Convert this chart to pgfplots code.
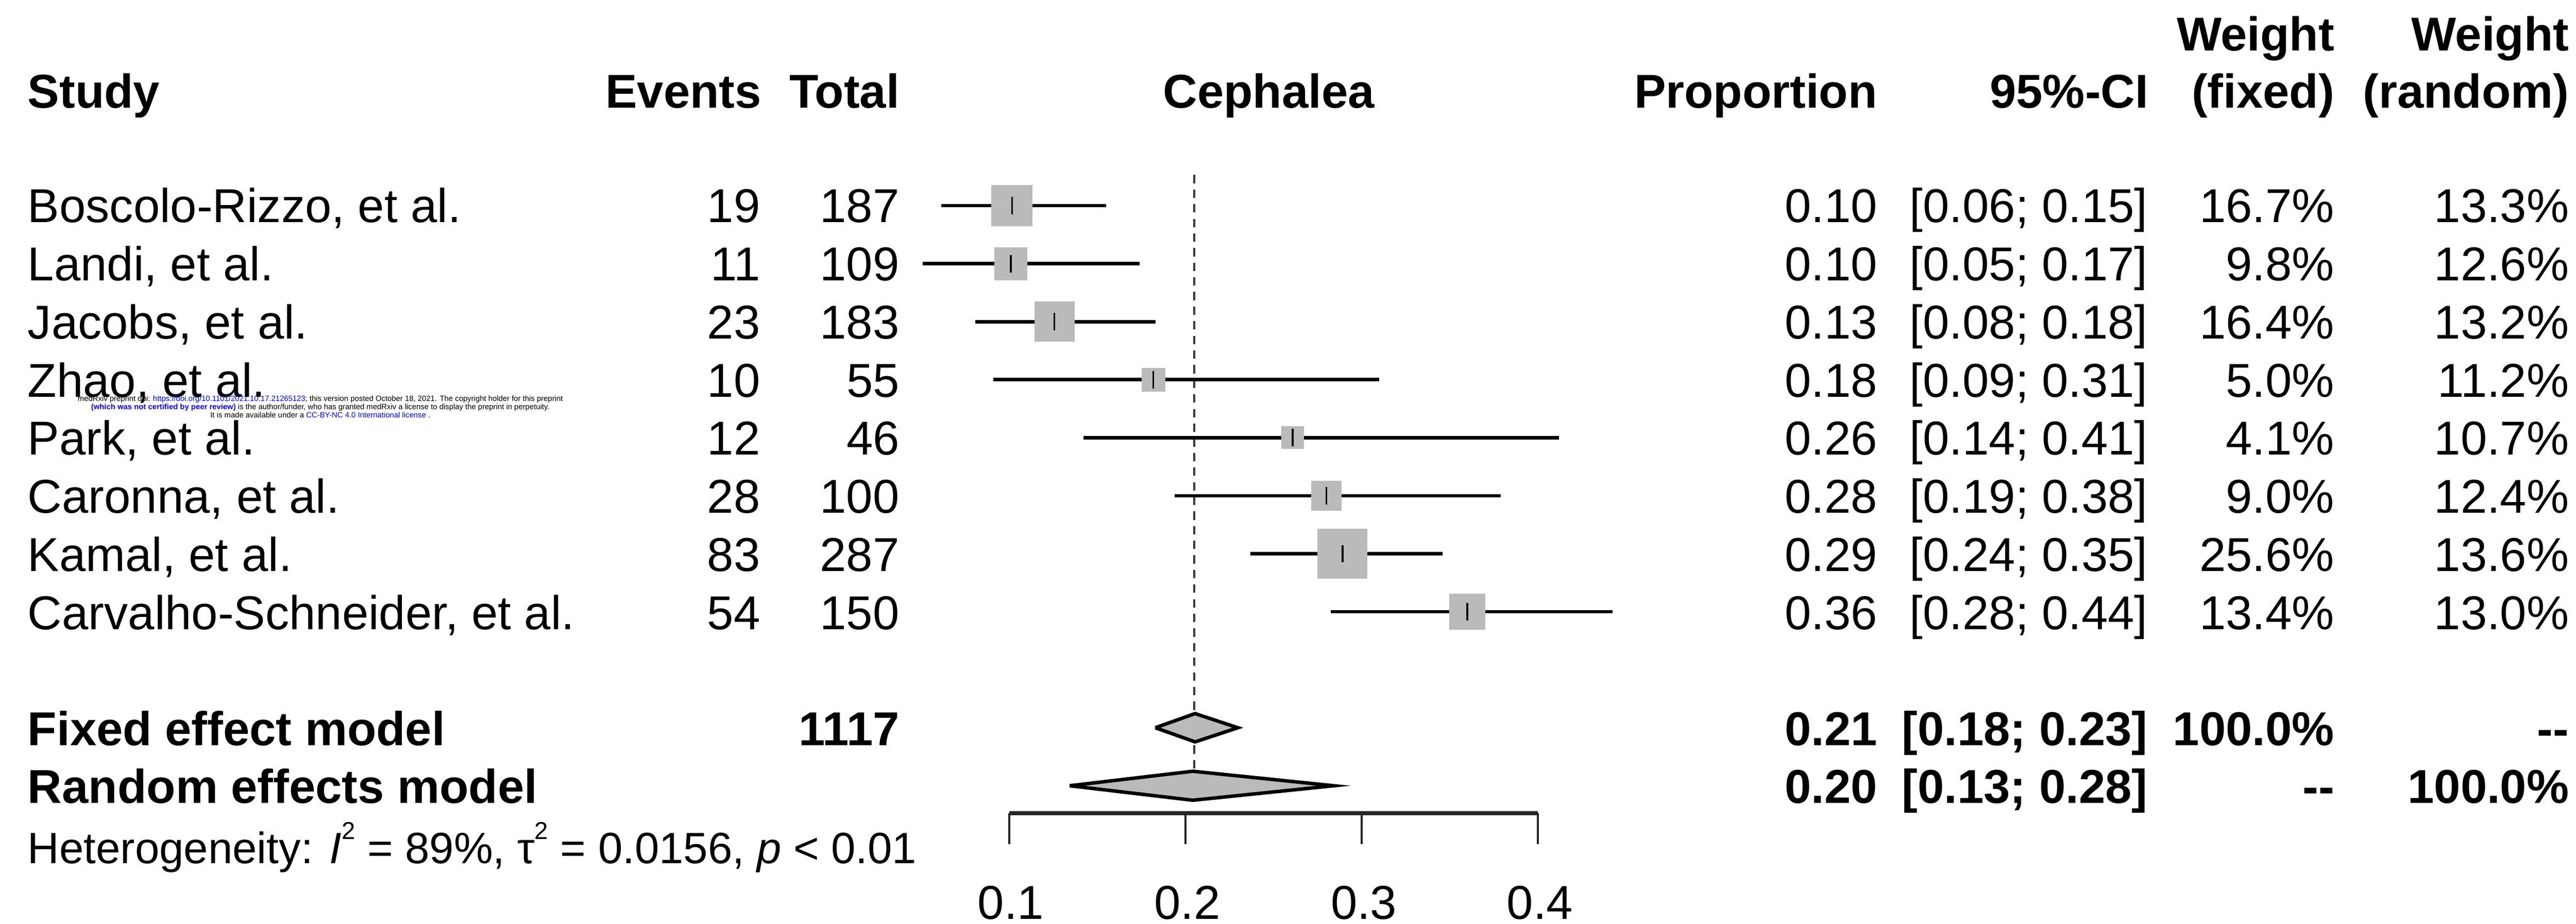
\documentclass[border=0pt]{standalone}
\usepackage{fontspec}
\setmainfont{Liberation Sans}
\usepackage{pgfplots}
\pgfplotsset{compat=1.18}

\definecolor{sqgray}{HTML}{BABABA}
\definecolor{linkblue}{HTML}{0000FF}

% one study: estimate, lower, upper, row, half side of square (pt)
\newcommand\study[5]{%
  \addplot[only marks, sqgray, mark=square*, mark size=#5pt, mark options={draw=sqgray, fill=sqgray, line width=0pt}]
    coordinates {(#1,-#4)};
  \addplot[black, line width=1pt] coordinates {(#2,-#4) (#3,-#4)};
  \addplot[only marks, black, mark=|, mark size=2.5pt, mark options={line width=0.5pt}]
    coordinates {(#1,-#4)};
}

\begin{document}
\begin{tikzpicture}[font=\fontsize{13.65}{16}\selectfont]
\begin{axis}[
  width=26cm, height=9.3229cm,
  scale only axis,
  hide axis,
  clip=false,
  xmin=-0.47283, xmax=0.98931,
  ymin=-13.382, ymax=2.5453,
]
\path (rel axis cs:0,0) rectangle (rel axis cs:1,1);
\coordinate (TL) at (rel axis cs:0,1);

% reference line at the fixed effect estimate
\addplot[gray!45!black, line width=0.7pt, dash pattern=on 2.4pt off 1.8pt]
  coordinates {(0.205,-0.47) (0.205,-10.75)};

\study{0.1016}{0.0615}{0.1550}{1}{5.86}
\study{0.1009}{0.0508}{0.1740}{2}{4.65}
\study{0.1257}{0.0806}{0.1830}{3}{5.69}
\study{0.1818}{0.0909}{0.3100}{4}{3.32}
\study{0.2609}{0.1420}{0.4120}{5}{3.16}
\study{0.2800}{0.1940}{0.3790}{6}{4.23}
\study{0.2892}{0.2370}{0.3460}{7}{7.10}
\study{0.3600}{0.2826}{0.4425}{8}{5.13}

% pooled diamonds
\addplot[fill=sqgray, draw=black, line width=1pt]
  coordinates {(0.1829,-10) (0.2055,-9.756) (0.2298,-10) (0.2055,-10.244) (0.1829,-10)};
\addplot[fill=sqgray, draw=black, line width=1pt]
  coordinates {(0.1343,-11) (0.2042,-10.75) (0.2842,-11) (0.2042,-11.25) (0.1343,-11)};

% bottom axis
\addplot[gray!30!black, line width=1.2pt] coordinates {(0.1,-11.474) (0.4,-11.474)};
\addplot[gray!30!black, line width=0.6pt] coordinates {(0.1,-11.474) (0.1,-12.008)};
\addplot[gray!30!black, line width=0.6pt] coordinates {(0.2,-11.474) (0.2,-12.008)};
\addplot[gray!30!black, line width=0.6pt] coordinates {(0.3,-11.474) (0.3,-12.008)};
\addplot[gray!30!black, line width=0.6pt] coordinates {(0.4,-11.474) (0.4,-12.008)};
\end{axis}

% text, placed in pixels of the reference (x right, y down)
\begin{scope}[shift={(TL)}, x=0.0039604cm, y=-0.0039604cm,
  every node/.style={inner sep=0pt}]
\foreach \v/\x in {0.1/2572,0.2/3021,0.3/3470,0.4/3918}
  \node[anchor=base] at (\x,2338) {\v};

\node[anchor=base west] at (69,275) {\bfseries Study};
\node[anchor=base east] at (1939,275) {\bfseries Events};
\node[anchor=base east] at (2290,275) {\bfseries Total};
\node[anchor=base] at (3228,275) {\bfseries Cephalea};
\node[anchor=base east] at (4778,275) {\bfseries Proportion};
\node[anchor=base east] at (5468,275) {\bfseries 95\%-CI};
\node[anchor=base east] at (5941,275) {\bfseries (fixed)};
\node[anchor=base east] at (6538,275) {\bfseries (random)};
\node[anchor=base east] at (5941,129) {\bfseries Weight};
\node[anchor=base east] at (6538,129) {\bfseries Weight};

\foreach \r/\name/\ev/\tot/\pr/\ci/\wf/\wr in {
  1/{Boscolo-Rizzo, et al.}/19/187/0.10/{[0.06; 0.15]}/16.7/13.3,
  2/{Landi, et al.}/11/109/0.10/{[0.05; 0.17]}/9.8/12.6,
  3/{Jacobs, et al.}/23/183/0.13/{[0.08; 0.18]}/16.4/13.2,
  4/{Zhao, et al.}/10/55/0.18/{[0.09; 0.31]}/5.0/11.2,
  5/{Park, et al.}/12/46/0.26/{[0.14; 0.41]}/4.1/10.7,
  6/{Caronna, et al.}/28/100/0.28/{[0.19; 0.38]}/9.0/12.4,
  7/{Kamal, et al.}/83/287/0.29/{[0.24; 0.35]}/25.6/13.6,
  8/{Carvalho-Schneider, et al.}/54/150/0.36/{[0.28; 0.44]}/13.4/13.0}{
  \pgfmathsetmacro\yb{566+(\r-1)*147.8}
  \node[anchor=base west] at (69,\yb) {\name};
  \node[anchor=base east] at (1936,\yb) {\ev};
  \node[anchor=base east] at (2290,\yb) {\tot};
  \node[anchor=base east] at (4778,\yb) {\pr};
  \node[anchor=base east] at (5466,\yb) {\ci};
  \node[anchor=base east] at (5941,\yb) {\wf\%};
  \node[anchor=base east] at (6538,\yb) {\wr\%};
}

\node[anchor=base west] at (69,1896) {\bfseries Fixed effect model};
\node[anchor=base east] at (2290,1896) {\bfseries 1117};
\node[anchor=base east] at (4778,1896) {\bfseries 0.21};
\node[anchor=base east] at (5466,1896) {\bfseries [0.18; 0.23]};
\node[anchor=base east] at (5941,1896) {\bfseries 100.0\%};
\node[anchor=base east] at (6538,1896) {\bfseries -{}-};
\node[anchor=base west] at (69,2043) {\bfseries Random effects model};
\node[anchor=base east] at (4778,2043) {\bfseries 0.20};
\node[anchor=base east] at (5466,2043) {\bfseries [0.13; 0.28]};
\node[anchor=base east] at (5941,2043) {\bfseries -{}-};
\node[anchor=base east] at (6538,2043) {\bfseries 100.0\%};

\node[anchor=base west,font=\fontsize{12.6}{14}\selectfont] at (69,2196)
  {Heterogeneity: \textit{I}\raisebox{0.55em}{\scriptsize 2} = 89\%, τ\raisebox{0.55em}{\scriptsize 2} = 0.0156, \textit{p} < 0.01};

% preprint stamp
\begin{scope}[every node/.append style={font=\fontsize{2.2}{2.4}\selectfont}]
\node[anchor=base] at (815,1020)
  {medRxiv preprint doi: \textcolor{linkblue}{https://doi.org/10.1101/2021.10.17.21265123}; this version posted October 18, 2021. The copyright holder for this preprint};
\node[anchor=base] at (815,1041)
  {\textcolor{linkblue}{\bfseries (which was not certified by peer review)} is the author/funder, who has granted medRxiv a license to display the preprint in perpetuity.};
\node[anchor=base] at (815,1062)
  {It is made available under a \textcolor{linkblue}{CC-BY-NC 4.0 International license} .};
\end{scope}
\end{scope}
\end{tikzpicture}
\end{document}
